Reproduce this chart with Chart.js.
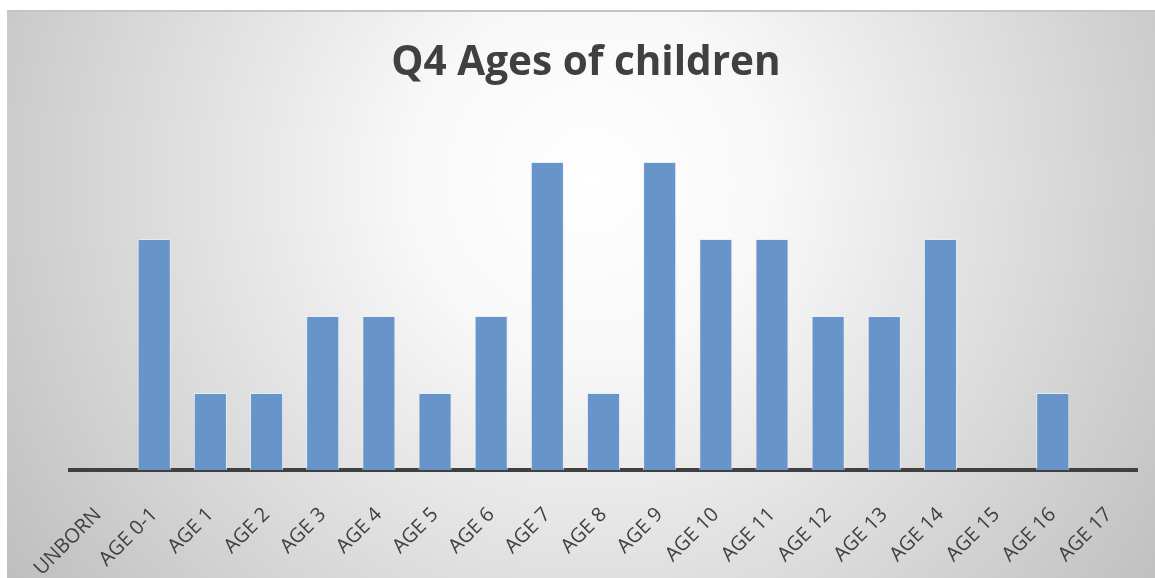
<!DOCTYPE html>
<html><head><meta charset="utf-8">
<script src="https://cdn.jsdelivr.net/npm/chart.js@4"></script>
<style>html,body{margin:0;padding:0;background:#fff}#wrap{width:1155px;height:578px;position:relative}</style>
</head><body><div id="wrap"><canvas id="c" width="1155" height="578"></canvas></div>
<script>
const categories = ["UNBORN","AGE 0-1","AGE 1","AGE 2","AGE 3","AGE 4","AGE 5","AGE 6","AGE 7","AGE 8","AGE 9","AGE 10","AGE 11","AGE 12","AGE 13","AGE 14","AGE 15","AGE 16","AGE 17"];
const counts = [0,3,1,1,2,2,1,2,4,1,4,3,3,2,2,3,0,1,0];
const titleText = "Q4 Ages of children";

const bgPlugin = {
  id: 'bg',
  beforeDraw(chart) {
    const ctx = chart.ctx;
    ctx.save();
    ctx.fillStyle = '#ffffff';
    ctx.fillRect(0, 0, chart.width, chart.height);
    const g = ctx.createRadialGradient(590, 180, 0, 590, 180, 720);
    g.addColorStop(0, '#ffffff');
    g.addColorStop(0.25, '#f8f8f8');
    g.addColorStop(1, '#bdbdbd');
    ctx.fillStyle = g;
    ctx.fillRect(7, 10, chart.width - 7, chart.height - 10);
    ctx.fillStyle = '#c4c4c4';
    ctx.fillRect(7, 10, chart.width - 7, 2);
    ctx.restore();
  },
  afterDraw(chart) {
    const ctx = chart.ctx;
    ctx.save();
    ctx.fillStyle = '#404040';
    ctx.font = 'bold 40.5px "Open Sans"';
    ctx.textAlign = 'center';
    ctx.textBaseline = 'middle';
    ctx.fillText(titleText, 586, 63);
    ctx.restore();
  }
};

new Chart(document.getElementById('c'), {
  type: 'bar',
  data: {
    labels: categories,
    datasets: [{
      data: counts,
      backgroundColor: '#6794c9',
      borderColor: 'rgba(230,238,250,0.8)',
      borderWidth: 1,
      barPercentage: 0.59,
      categoryPercentage: 1.0
    }]
  },
  options: {
    responsive: false,
    animation: false,
    layout: { padding: { left: 70, right: 18, top: 85, bottom: 0 } },
    plugins: {
      legend: { display: false },
      tooltip: { enabled: false },
      title: { display: false }
    },
    scales: {
      x: {
        grid: { display: false, drawTicks: false },
        border: { display: true, color: '#404040', width: 4 },
        afterFit(scale) {
          scale.height = 108;
          scale.paddingLeft = 0;
          scale.paddingRight = 0;
        },
        ticks: {
          autoSkip: false,
          maxRotation: 45,
          minRotation: 45,
          padding: 33,
          color: '#404040',
          font: { family: 'Open Sans', size: 20 }
        }
      },
      y: {
        display: false,
        min: 0,
        max: 5
      }
    }
  },
  plugins: [bgPlugin]
});
</script>
</body></html>
